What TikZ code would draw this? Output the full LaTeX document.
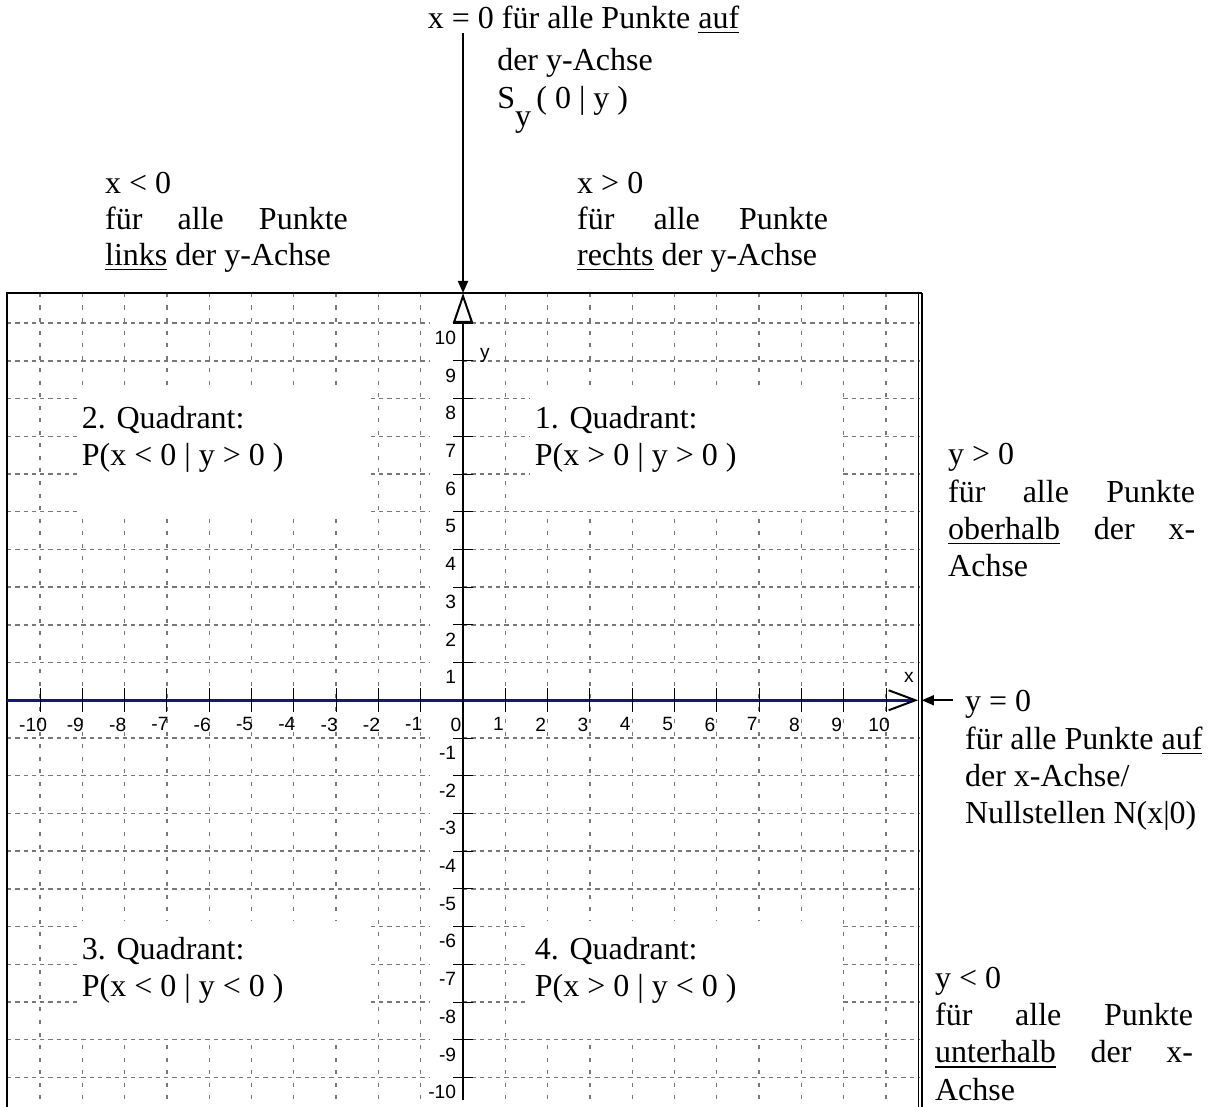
\documentclass[tikz,border=0pt]{standalone}
\usepackage{fontspec}
\setmainfont{Liberation Serif}
\setsansfont{Liberation Sans}
\usetikzlibrary{arrows.meta}
\usepackage{xcolor}
\definecolor{axisblue}{RGB}{22,22,128}
\definecolor{gridgray}{RGB}{120,120,120}
\newcommand{\spreadline}[2]{\makebox[#1][s]{#2}}

\begin{document}
\begin{tikzpicture}[x=15.86pt,y=14.14pt,
  every node/.style={inner sep=0pt,outer sep=0pt},
  txt/.style={font=\fontsize{12}{13.9}\selectfont,align=left,anchor=base west},
  num/.style={font=\sffamily\fontsize{7.2}{8}\selectfont},
  hgrid/.style={gridgray,line width=0.5pt,dash pattern=on 1.6pt off 1.5pt},
  vgrid/.style={gridgray,line width=0.5pt,dash pattern=on 1.5pt off 3.2pt},
  pointer/.style={line width=0.6pt,-{Triangle[length=4.5pt,width=3.8pt]}}]
\useasboundingbox (-10.946,-10.769) rectangle (17.801,18.568);

\foreach \k in {-10,...,-1,1,2,...,10} {
  \draw[vgrid] (\k,10.8) -- (\k,-10.85);
  \draw[hgrid] (-10.78,\k) -- (-0.78,\k);
  \draw[hgrid] (0,\k) -- (10.8,\k);
}

\fill[white] (-9.05,8.22) rectangle (-2.25,4.97);
\fill[white] (1.58,8.22) rectangle (8.91,5.05);
\fill[white] (-9.05,-5.84) rectangle (-2.25,-8.94);
\fill[white] (1.49,-5.84) rectangle (8.91,-8.94);

\draw[line width=0.75pt] (-10.78,-10.85) -- (-10.78,10.8) -- (10.85,10.8);
\draw[line width=0.4pt] (10.77,10.8) -- (10.77,-10.85);
\draw[line width=0.4pt] (10.85,10.8) -- (10.85,-10.85);

\coordinate (ytip) at (0,10.8);
\coordinate (xtip) at (10.76,0);
\coordinate (rframe) at (10.85,0);
\coordinate (ystart) at (0,17.69);
\coordinate (xstart) at (11.58,0);

\draw[axisblue,line width=1.1pt,-{Straight Barb[color=black,length=10pt,width=7.5pt,line width=0.75pt]}] (-10.78,0) -- (xtip);
\draw[line width=0.75pt,-{Triangle[open,length=11.25pt,width=7.5pt]}] (0,-10.6) -- (ytip);

\foreach \k [count=\i] in {-10,...,-1,1,2,...,10} {
  \draw[line width=0.35pt] (\k,0) ++(0,4.5pt) -- ++(0,-9pt);
  \draw[line width=0.35pt] (0,\k) ++(-3.75pt,0) -- ++(7.5pt,0);
  \node[num,anchor=north east] (yl\i) at ([xshift=-2.6pt,yshift=-3pt]0,\k) {\k};
}
\foreach \k [count=\i] in {-10,...,10} {
  \node[num,anchor=north] (xl\i) at ([xshift=-2.6pt,yshift=-6.5pt]\k,0) {\k};
}
\node[num] (xlab) at (10.54,0.61) {x};
\node[num] (ylab) at (0.52,9.15) {y};

\node[txt,font=\fontsize{12}{13.9}\selectfont] (xnull) at (-0.83,15.70) {x = 0 für alle Punkte \underline{auf}\\[1.85pt]
  \hspace*{26pt}der y-Achse\\[0.35pt]
  \hspace*{26pt}S\raisebox{-6.7pt}{y}\,( 0 | y )};
\node[txt,font=\fontsize{12}{13.5}\selectfont] (xneg) at (-8.46,11.54) {x < 0\\ \spreadline{91pt}{für alle Punkte}\\ \underline{links} der y-Achse};
\node[txt,font=\fontsize{12}{13.5}\selectfont] (xpos) at (2.70,11.54) {x > 0\\ \spreadline{94pt}{für alle Punkte}\\ \underline{rechts} der y-Achse};
\node[txt] (ypos) at (11.47,3.29) {y > 0\\ \spreadline{92.6pt}{für alle Punkte}\\ \spreadline{92.6pt}{\underline{oberhalb} der x-}\\ Achse};
\node[txt] (ynull) at (11.87,-3.26) {y = 0\\ für alle Punkte \underline{auf}\\ der x-Achse/\\ Nullstellen N(x|0)};
\node[txt] (yneg) at (11.16,-10.6) {y < 0\\ \spreadline{96.7pt}{für alle Punkte}\\ \spreadline{96.7pt}{\underline{unterhalb} der x-}\\ Achse};

\node[txt] (qII) at (-9.01,6.23) {2. Quadrant:\\ P(x < 0 | y > 0 )};
\node[txt] (qI) at (1.70,6.23) {1. Quadrant:\\ P(x > 0 | y > 0 )};
\node[txt] (qIII) at (-9.01,-7.85) {3. Quadrant:\\ P(x < 0 | y < 0 )};
\node[txt] (qIV) at (1.70,-7.85) {4. Quadrant:\\ P(x > 0 | y < 0 )};

\draw[pointer] (ystart) -- (ytip);
\draw[pointer] (xstart) -- (rframe);
\end{tikzpicture}
\end{document}
